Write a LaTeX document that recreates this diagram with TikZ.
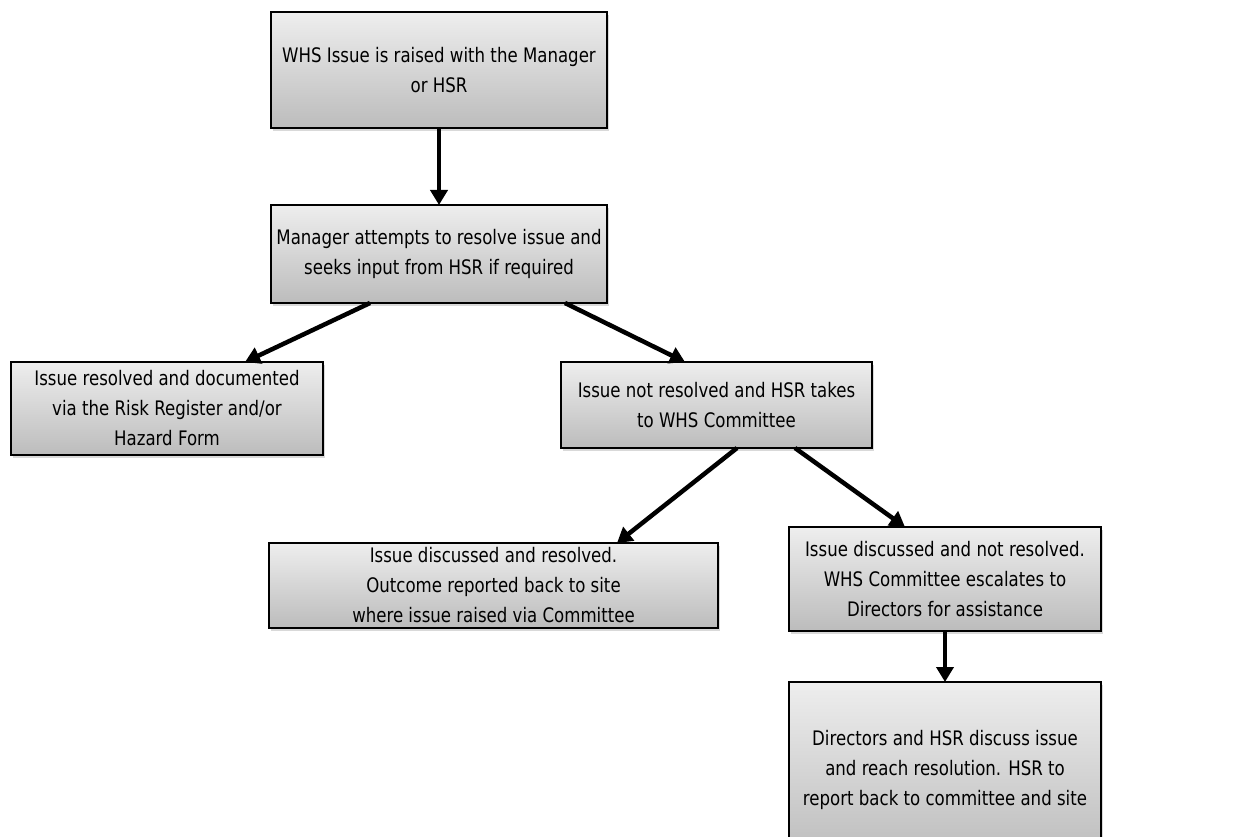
\documentclass[tikz,border=0pt]{standalone}
\usepackage{fontspec}
\setmainfont{DejaVu Sans}[FakeStretch=0.83]
\usetikzlibrary{arrows.meta,shadows}
\definecolor{boxtop}{RGB}{238,238,238}
\definecolor{boxbot}{RGB}{188,188,188}
\tikzset{
  flowbox/.style={draw=black, line width=1.3pt, top color=boxtop, bottom color=boxbot,
    align=center, inner sep=0pt, outer sep=0pt,
    font=\fontsize{20}{30}\selectfont,
    drop shadow={shadow xshift=2pt, shadow yshift=-3pt, opacity=0.3}},
  flowarrow/.style={line width=4.5pt, -{Triangle[length=15pt,width=17pt]}}
}
\begin{document}
\begin{tikzpicture}[x=1pt,y=-1pt]
\useasboundingbox (0,0) rectangle (1245,837);
\node[flowbox, minimum width=336pt, minimum height=116pt] (b1) at (439,70)
  {WHS Issue is raised with the Manager\\or HSR};
\node[flowbox, minimum width=336pt, minimum height=98pt] (b2) at (439,254)
  {Manager attempts to resolve issue and\\seeks input from HSR if required};
\node[flowbox, minimum width=312pt, minimum height=93pt] (b3) at (167,408.5)
  {Issue resolved and documented\\via the Risk Register and/or\\Hazard Form};
\node[flowbox, minimum width=311pt, minimum height=86pt] (b4) at (716.5,405)
  {Issue not resolved and HSR takes\\to WHS Committee};
\node[flowbox, minimum width=449pt, minimum height=85pt] (b5) at (493.5,585.5)
  {Issue discussed and resolved.\\Outcome reported back to site\\where issue raised via Committee};
\node[flowbox, minimum width=312pt, minimum height=104pt] (b6) at (945,579)
  {Issue discussed and not resolved.\\WHS Committee escalates to\\Directors for assistance};
\node[flowbox, minimum width=312pt, minimum height=176pt] (b7) at (945,770)
  {Directors and HSR discuss issue\\and reach resolution. HSR to\\report back to committee and site};
\draw[flowarrow] (b1.south) -- (b2.north);
\draw[flowarrow] ([xshift=-69pt]b2.south) -- ([xshift=78pt]b3.north);
\draw[flowarrow] ([xshift=126pt]b2.south) -- ([xshift=-31.5pt]b4.north);
\draw[flowarrow] ([xshift=20.5pt]b4.south) -- ([xshift=123.5pt]b5.north);
\draw[flowarrow] ([xshift=78.5pt]b4.south) -- ([xshift=-40pt]b6.north);
\draw[flowarrow] (b6.south) -- (b7.north);
\end{tikzpicture}
\end{document}
